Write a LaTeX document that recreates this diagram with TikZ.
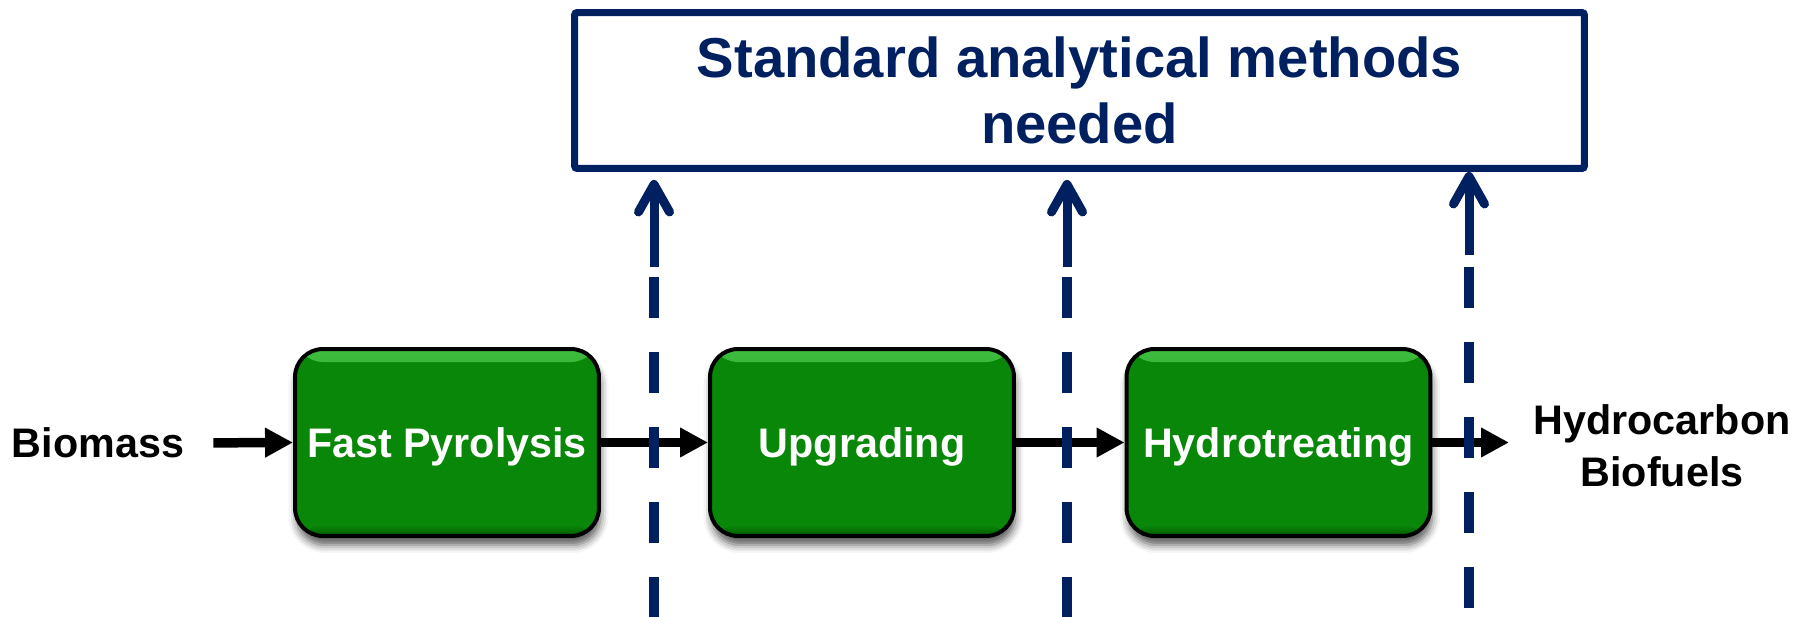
\documentclass[tikz,border=0pt]{standalone}
\usepackage{fontspec}
\setmainfont{Liberation Sans}
\usetikzlibrary{arrows.meta,shadows.blur}

\definecolor{navy}{RGB}{0,32,96}
\definecolor{procgreen}{RGB}{8,135,8}
\definecolor{procgreenlight}{RGB}{62,188,62}
\definecolor{procgreendark}{RGB}{0,92,0}

\tikzset{
  % green process boxes with a light rim on top and a darker rim below
  process/.style={
    draw=black, line width=0.08cm, rounded corners=0.56cm, fill=procgreen,
    minimum width=6.08cm, minimum height=3.74cm, inner sep=0pt,
    text=white, font=\bfseries\fontsize{23.5}{28}\selectfont,
    text height=0.62cm, text depth=0pt,
    blur shadow={shadow xshift=0.03cm, shadow yshift=-0.18cm,
                 shadow blur radius=0.16cm, shadow opacity=65},
    path picture={
      \shade[top color=procgreenlight, bottom color=procgreen]
        ([yshift=-0.02cm]path picture bounding box.north west) rectangle
        ([yshift=-0.26cm]path picture bounding box.north east);
      \shade[top color=procgreen, bottom color=procgreendark]
        ([yshift=0.22cm]path picture bounding box.south west) rectangle
        (path picture bounding box.south east);
    }
  },
  plain label/.style={font=\bfseries\fontsize{23.5}{29.5}\selectfont,
    align=center, inner sep=0pt},
  methods/.style={draw=navy, line width=0.14cm, rounded corners=0.05cm,
    minimum width=20.2cm, minimum height=3.12cm, inner sep=0pt,
    text=navy, font=\bfseries\fontsize{32}{37.4}\selectfont, align=center},
  flow/.style={line width=0.19cm,
    -{Triangle[length=0.56cm,width=0.56cm]}},
  probe/.style={draw=navy, line width=0.18cm,
    -{Straight Barb[length=0.55cm,width=0.62cm,round]}},
  probedash/.style={draw=navy, line width=0.2cm,
    dash pattern=on 0.82cm off 0.68cm}
}

\begin{document}
\begin{tikzpicture}[x=0.02cm, y=-0.02cm]
  \useasboundingbox (0,0) rectangle (1808,617);

  % box on top
  \node[methods] (methods) at (1079.5,90.5) {Standard analytical methods\\needed};

  % process chain
  \node[plain label] (bio) at (98,443) {Biomass};
  \node[process] (pyro)  at (447,442.5)  {Fast Pyrolysis};
  \node[process] (upg)   at (862,442.5)  {Upgrading};
  \node[process] (hydro) at (1278.5,442.5) {Hydrotreating};
  \node[plain label] (fuel) at (1662,446) {Hydrocarbon\\Biofuels};
  \coordinate (out) at (1509,442.5);

  \draw[flow, shorten <=0.58cm] (bio.east) -- (pyro.west);
  \draw[flow] (pyro.east) -- (upg.west);
  \draw[flow] (upg.east) -- (hydro.west);
  \draw[flow] (hydro.east) -- (out);

  % sampling points: solid arrow into the box, dashed line below
  \coordinate (a1) at (654,267);
  \coordinate (a2) at (1067,267);
  \coordinate (a3) at (1469,255);
  \coordinate (d1t) at (654,277);  \coordinate (d1b) at (654,617);
  \coordinate (d2t) at (1067,277); \coordinate (d2b) at (1067,617);
  \coordinate (d3t) at (1469,267); \coordinate (d3b) at (1469,617);

  \draw[probe, shorten >=0.16cm] (a1) -- (a1 |- methods.south);
  \draw[probe, shorten >=0.16cm] (a2) -- (a2 |- methods.south);
  \draw[probe] (a3) -- (a3 |- methods.south);

  \draw[probedash] (d1t) -- (d1b);
  \draw[probedash] (d2t) -- (d2b);
  \draw[probedash] (d3t) -- (d3b);
\end{tikzpicture}
\end{document}
